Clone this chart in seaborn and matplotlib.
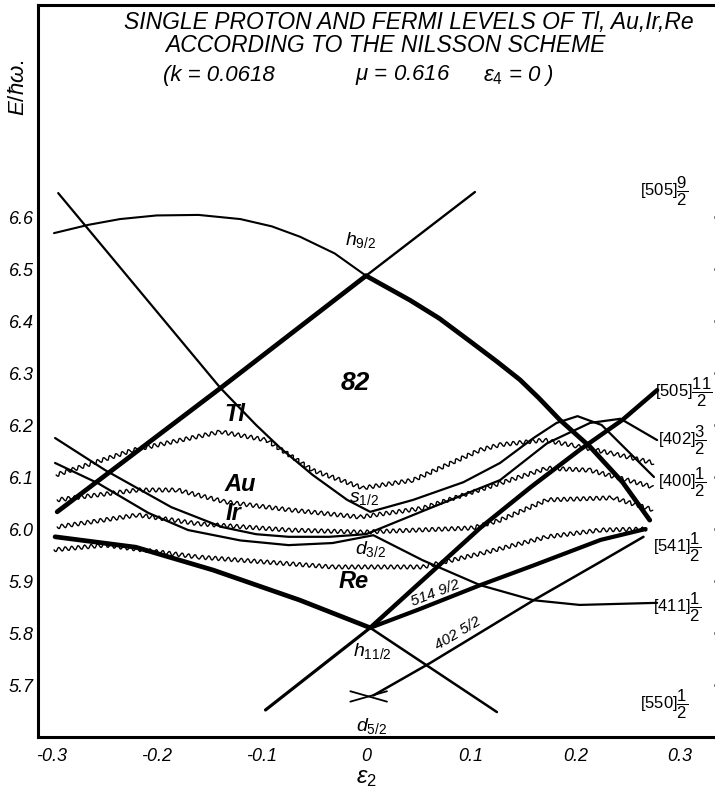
import numpy as np
import pandas as pd
import seaborn as sns
import matplotlib
matplotlib.use("Agg")
import matplotlib.pyplot as plt

# ---- single-proton Nilsson levels: deformation eps2 vs E/hbar-omega ----
# [541]1/2 branch of h9/2
l541_obl_eps = [-0.298, -0.265, -0.235, -0.2, -0.16, -0.12, -0.09, -0.063, -0.03, 0.0]
l541_obl_E = [6.569, 6.585, 6.596, 6.603, 6.604, 6.596, 6.582, 6.562, 6.53, 6.487]
l541_pro_eps = [0.0, 0.042, 0.07, 0.1, 0.125, 0.147, 0.165, 0.185, 0.214, 0.245, 0.271]
l541_pro_E = [6.487, 6.44, 6.405, 6.36, 6.322, 6.287, 6.252, 6.21, 6.158, 6.09, 6.017]
# [505]9/2 branch of h9/2
l505_obl_eps = [-0.295, -0.139, 0.0]
l505_obl_E = [6.033, 6.271, 6.487]
l505_pro_eps = [0.0, 0.104]
l505_pro_E = [6.487, 6.648]
# [400]1/2 through s1/2
l400_eps = [-0.294, -0.139, -0.105, -0.082, -0.051, -0.018, 0.004, 0.045, 0.093, 0.128,
            0.16, 0.182, 0.202, 0.225, 0.25, 0.275]
l400_E = [6.646, 6.271, 6.2, 6.156, 6.104, 6.056, 6.033, 6.056, 6.09, 6.127,
          6.175, 6.204, 6.217, 6.2, 6.15, 6.1]
# [402]3/2 through d3/2
l402a_eps = [-0.297, -0.249, -0.186, -0.138, -0.105, -0.074, -0.035, 0.0, 0.061, 0.128,
             0.173, 0.214, 0.243, 0.278]
l402a_E = [6.175, 6.113, 6.042, 6.004, 5.99, 5.985, 5.985, 5.99, 6.04, 6.094,
           6.165, 6.204, 6.212, 6.171]
# [411]1/2 through d3/2
l411_eps = [-0.297, -0.256, -0.208, -0.17, -0.12, -0.074, -0.032, 0.007, 0.054, 0.109,
            0.16, 0.204, 0.278]
l411_E = [6.127, 6.088, 6.031, 5.998, 5.978, 5.969, 5.973, 5.988, 5.94, 5.892,
          5.863, 5.854, 5.858]
# h11/2 levels
l514_obl_eps = [-0.297, -0.22, -0.146, -0.063, 0.004]
l514_obl_E = [5.985, 5.965, 5.921, 5.863, 5.81]
l514_pro_eps = [0.004, 0.05, 0.109, 0.16, 0.224, 0.267]
l514_pro_E = [5.81, 5.845, 5.892, 5.93, 5.979, 6.0]
l50511_obl_eps = [-0.096, 0.004]
l50511_obl_E = [5.652, 5.81]
l50511_pro_eps = [0.004, 0.068, 0.109, 0.157, 0.204, 0.245, 0.278]
l50511_pro_E = [5.81, 5.927, 6.002, 6.08, 6.152, 6.21, 6.267]
l550_eps = [0.004, 0.125]
l550_E = [5.81, 5.648]
# d5/2 levels
l402b_eps = [0.007, 0.061, 0.16, 0.224, 0.265]
l402b_E = [5.68, 5.742, 5.863, 5.937, 5.985]
d52a_eps = [-0.015, 0.02]
d52a_E = [5.688, 5.668]
d52b_eps = [-0.015, 0.02]
d52b_E = [5.668, 5.688]

# ---- Fermi levels ----
tl_eps = [-0.296, -0.222, -0.139, -0.095, -0.051, -0.003, 0.045, 0.109, 0.128,
          0.17, 0.2, 0.236, 0.275]
tl_E = [6.104, 6.152, 6.187, 6.171, 6.113, 6.079, 6.094, 6.152, 6.162,
        6.171, 6.16, 6.145, 6.127]
au_eps = [-0.295, -0.218, -0.18, -0.134, -0.074, -0.006, 0.054, 0.128, 0.173,
          0.214, 0.274]
au_E = [6.056, 6.075, 6.075, 6.052, 6.037, 6.023, 6.04, 6.088, 6.117,
        6.113, 6.081]
ir_eps = [-0.295, -0.218, -0.16, -0.074, -0.003, 0.102, 0.128, 0.173, 0.236, 0.274]
ir_E = [6.004, 6.027, 6.01, 5.998, 5.994, 6.002, 6.017, 6.056, 6.06, 6.037]
re_eps = [-0.298, -0.249, -0.16, -0.032, 0.054, 0.112, 0.173, 0.224, 0.268]
re_E = [5.96, 5.969, 5.946, 5.927, 5.927, 5.954, 5.985, 5.998, 6.0]

# ---- axis ticks ----
x_ticks = [-0.3, -0.2, -0.1, 0.0, 0.1, 0.2, 0.3]
x_ticklabels = ["-0.3", "-0.2", "-0.1", "0", "0.1", "0.2", "0.3"]
y_ticks = [5.7, 5.8, 5.9, 6.0, 6.1, 6.2, 6.3, 6.4, 6.5, 6.6]
y_ticklabels = ["5.7", "5.8", "5.9", "6.0", "6.1", "6.2", "6.3", "6.4", "6.5", "6.6"]

sns.set_theme(style="white")
plt.rcParams["font.family"] = ["Liberation Sans", "DejaVu Sans"]
plt.rcParams["mathtext.fontset"] = "custom"
plt.rcParams["mathtext.it"] = "Liberation Sans:italic"
plt.rcParams["mathtext.rm"] = "Liberation Sans"
plt.rcParams["mathtext.default"] = "it"
for key in ["text.color", "axes.labelcolor", "xtick.color", "ytick.color"]:
    plt.rcParams[key] = "black"

W, H = 715, 789
fig = plt.figure(figsize=(W / 100, H / 100), dpi=100)
ax = fig.add_axes([38 / W, 1 - 737 / H, (726 - 38) / W, (737 - 5) / H])
ax.set_xlim(-0.3133, 0.3438)
ax.set_ylim(5.6, 7.0077)

solid = [
    (l541_obl_eps, l541_obl_E, 1.5), (l541_pro_eps, l541_pro_E, 3.4),
    (l505_obl_eps, l505_obl_E, 3.4), (l505_pro_eps, l505_pro_E, 1.7),
    (l400_eps, l400_E, 1.6), (l402a_eps, l402a_E, 1.6), (l411_eps, l411_E, 1.6),
    (l514_obl_eps, l514_obl_E, 3.4), (l514_pro_eps, l514_pro_E, 3.0),
    (l50511_obl_eps, l50511_obl_E, 2.3), (l50511_pro_eps, l50511_pro_E, 3.2),
    (l550_eps, l550_E, 1.8), (l402b_eps, l402b_E, 1.8),
    (d52a_eps, d52a_E, 1.3), (d52b_eps, d52b_E, 1.3),
]
for eps, en, lw in solid:
    df = pd.DataFrame({"eps": eps, "E": en})
    sns.lineplot(data=df, x="eps", y="E", ax=ax, color="black", lw=lw,
                 sort=False, estimator=None, solid_capstyle="round",
                 solid_joinstyle="round")

fermi = [(tl_eps, tl_E), (au_eps, au_E), (ir_eps, ir_E), (re_eps, re_E)]
for eps, en in fermi:
    df = pd.DataFrame({"eps": eps, "E": en})
    sns.lineplot(data=df, x="eps", y="E", ax=ax, color="black", lw=1.0,
                 sort=False, estimator=None)
    ax.lines[-1].set_sketch_params(scale=2.0, length=6.5, randomness=1)

# ---- frame and ticks ----
for side in ["left", "bottom", "top", "right"]:
    ax.spines[side].set_linewidth(2.2)
    ax.spines[side].set_color("black")
ax.set_xticks(x_ticks)
ax.set_xticklabels(x_ticklabels, fontsize=13, style="italic")
ax.set_yticks(y_ticks)
ax.set_yticklabels(y_ticklabels, fontsize=13, style="italic")
ax.tick_params(axis="both", direction="in", length=9, width=2, color="black",
               pad=4)
ax.tick_params(axis="y", right=True, pad=3)
ax.tick_params(axis="x", pad=8)
ax.set_xlabel("")
ax.set_ylabel("")

# ---- labels on the levels ----
txt = dict(color="black", ha="center", va="center")
ax.text(-0.005, 6.555, r"$h_{9/2}$", fontsize=14, **txt)
ax.text(-0.01, 6.28, "82", fontsize=19, fontweight="bold", style="italic", **txt)
ax.text(-0.125, 6.22, "Tl", fontsize=17, fontweight="bold", style="italic", **txt)
ax.text(-0.12, 6.085, "Au", fontsize=17, fontweight="bold", style="italic", **txt)
ax.text(-0.127, 6.03, "Ir", fontsize=17, fontweight="bold", style="italic", **txt)
ax.text(-0.012, 5.9, "Re", fontsize=17, fontweight="bold", style="italic", **txt)
ax.text(-0.002, 6.058, r"$s_{1/2}$", fontsize=14, **txt)
ax.text(0.004, 5.962, r"$d_{3/2}$", fontsize=14, **txt)
ax.text(0.006, 5.765, r"$h_{11/2}$", fontsize=14, **txt)
ax.text(0.005, 5.621, r"$d_{5/2}$", fontsize=14, **txt)
ax.text(0.066, 5.877, "514 9/2", fontsize=11, style="italic", rotation=21, **txt)
ax.text(0.088, 5.8, "402 5/2", fontsize=11, style="italic", rotation=31, **txt)

right_labels = [
    (0.262, 6.65, r"$[505]\dfrac{9}{2}$"),
    (0.276, 6.262, r"$[505]\dfrac{11}{2}$"),
    (0.279, 6.171, r"$[402]\dfrac{3}{2}$"),
    (0.279, 6.09, r"$[400]\dfrac{1}{2}$"),
    (0.274, 5.965, r"$[541]\dfrac{1}{2}$"),
    (0.274, 5.85, r"$[411]\dfrac{1}{2}$"),
    (0.262, 5.662, r"$[550]\dfrac{1}{2}$"),
]
for x, y, s in right_labels:
    ax.text(x, y, s, fontsize=12, color="black", ha="left", va="center")

# ---- headings ----
fig.text(409 / W, 1 - 22 / H, "SINGLE PROTON AND FERMI LEVELS OF Tl, Au,Ir,Re",
         fontsize=16.5, style="italic", ha="center", va="center")
fig.text(385 / W, 1 - 45 / H, "ACCORDING TO THE NILSSON SCHEME",
         fontsize=16.5, style="italic", ha="center", va="center")
fig.text(163 / W, 1 - 75 / H, "(k = 0.0618", fontsize=16, style="italic",
         ha="left", va="center")
fig.text(355 / W, 1 - 75 / H, r"$\mu$ = 0.616", fontsize=16, style="italic",
         ha="left", va="center")
fig.text(483 / W, 1 - 75 / H, r"$\varepsilon_4$ = 0 )", fontsize=16, style="italic",
         ha="left", va="center")
fig.text(18 / W, 1 - 88 / H, r"$E/\hbar\omega.$", fontsize=16, rotation=90,
         ha="center", va="center")
fig.text(366 / W, 1 - 778 / H, r"$\varepsilon_2$", fontsize=17,
         ha="center", va="center")

fig.savefig("out.png", dpi=100, facecolor="white")
